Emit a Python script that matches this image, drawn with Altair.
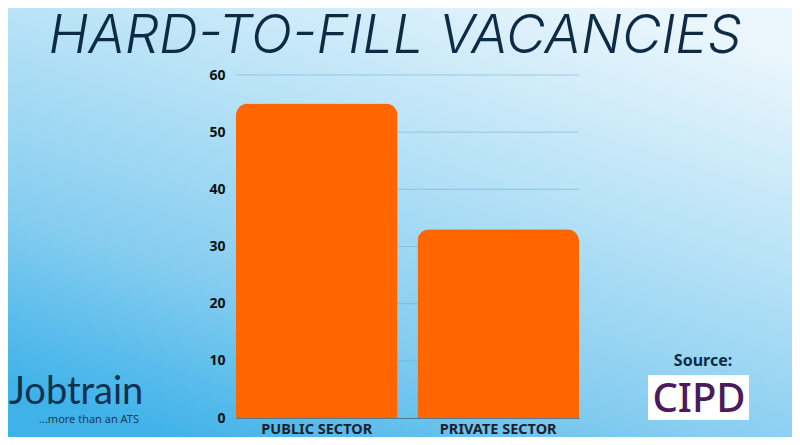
import altair as alt
import pandas as pd

categories = ["PUBLIC SECTOR", "PRIVATE SECTOR"]
values = [55, 33]
y_ticks = [0, 10, 20, 30, 40, 50, 60]
title_text = "HARD-TO-FILL VACANCIES"
logo_text = "Jobtrain"
tagline_text = "...more than an ATS"
source_label = "Source:"
source_name = "CIPD"

W, H = 343, 343
PL, PT, PR, PB = 228, 67, 213, 19

df = pd.DataFrame({"category": categories, "value": values})
grid_df = pd.DataFrame({"tick": y_ticks[1:]})
one = pd.DataFrame({"k": [0]})

FONT = "Noto Sans"
NAVY = "#0d2b45"

y_axis = alt.Axis(values=y_ticks, ticks=False, domain=False, zindex=1,
                  grid=False,
                  labelFont=FONT, labelFontSize=14, labelFontWeight="bold",
                  labelColor="#111111", labelPadding=11)
y_scale = alt.Scale(domain=[0, 60], nice=False)

bg = alt.Chart(one).mark_rect(
    clip=False,
    fill=alt.Gradient(
        gradient="linear",
        x1=0.2, y1=1, x2=0.8, y2=0,
        stops=[
            alt.GradientStop(offset=0, color="#3fb2e9"),
            alt.GradientStop(offset=0.3, color="#86cdf0"),
            alt.GradientStop(offset=0.6, color="#b2e0f6"),
            alt.GradientStop(offset=1, color="#eaf6fc"),
        ],
    ),
).encode(
    x=alt.value(-PL), x2=alt.value(W + PR),
    y=alt.value(-PT), y2=alt.value(H + PB),
)

grid = alt.Chart(grid_df).mark_rule(color="#6fa9c6", opacity=0.5, strokeWidth=1).encode(
    y=alt.Y("tick:Q", scale=y_scale, axis=y_axis, title=None),
)

bars = alt.Chart(df).mark_bar(
    color="#ff6600", cornerRadiusTopLeft=12, cornerRadiusTopRight=12
).encode(
    x=alt.X("category:N", sort=categories, title=None,
            scale=alt.Scale(paddingInner=0.11, paddingOuter=0),
            axis=alt.Axis(labelAngle=0, ticks=False, domain=True, zindex=1,
                          domainColor="#4f7a90", domainWidth=1,
                          labelFont=FONT, labelFontSize=14.5, labelFontWeight="bold",
                          labelColor="#1b1f2e", labelPadding=4)),
    y=alt.Y("value:Q", title=None, scale=y_scale, axis=y_axis),
)

title = alt.Chart(pd.DataFrame({"t": [title_text]})).mark_text(
    font="Inter", fontSize=54, fontStyle="italic", fontWeight=300,
    color=NAVY, align="center", baseline="alphabetic", clip=False,
).encode(x=alt.value(159), y=alt.value(-22), text="t:N")

logo = alt.Chart(pd.DataFrame({"t": [logo_text]})).mark_text(
    font="Lato", fontSize=38, fontWeight=400, color="#0f3150",
    align="left", baseline="alphabetic", clip=False,
).encode(x=alt.value(-227), y=alt.value(329), text="t:N")

tagline = alt.Chart(pd.DataFrame({"t": [tagline_text]})).mark_text(
    font=FONT, fontSize=11, color="#1f3a52",
    align="left", baseline="alphabetic", clip=False,
).encode(x=alt.value(-197), y=alt.value(348), text="t:N")

src = alt.Chart(pd.DataFrame({"t": [source_label]})).mark_text(
    font=FONT, fontSize=16, fontWeight="bold", color=NAVY,
    align="center", baseline="alphabetic", clip=False,
).encode(x=alt.value(467), y=alt.value(291), text="t:N")

box = alt.Chart(one).mark_rect(fill="white", clip=False).encode(
    x=alt.value(412), x2=alt.value(513), y=alt.value(300), y2=alt.value(345)
)

cipd = alt.Chart(pd.DataFrame({"t": [source_name]})).mark_text(
    font=FONT, fontSize=40, fontWeight=500, color="#4b1b5e",
    align="center", baseline="alphabetic", clip=False,
).encode(x=alt.value(463), y=alt.value(337), text="t:N")

chart = alt.layer(bg, grid, bars, title, logo, tagline, src, box, cipd).properties(
    width=W, height=H,
    autosize=alt.AutoSizeParams(type="none"),
    padding={"left": PL, "top": PT, "right": PR, "bottom": PB},
    background="#8ccff0",
).configure_view(stroke=None)

chart.save("out.html", embed_options={"renderer": "svg", "actions": False})
